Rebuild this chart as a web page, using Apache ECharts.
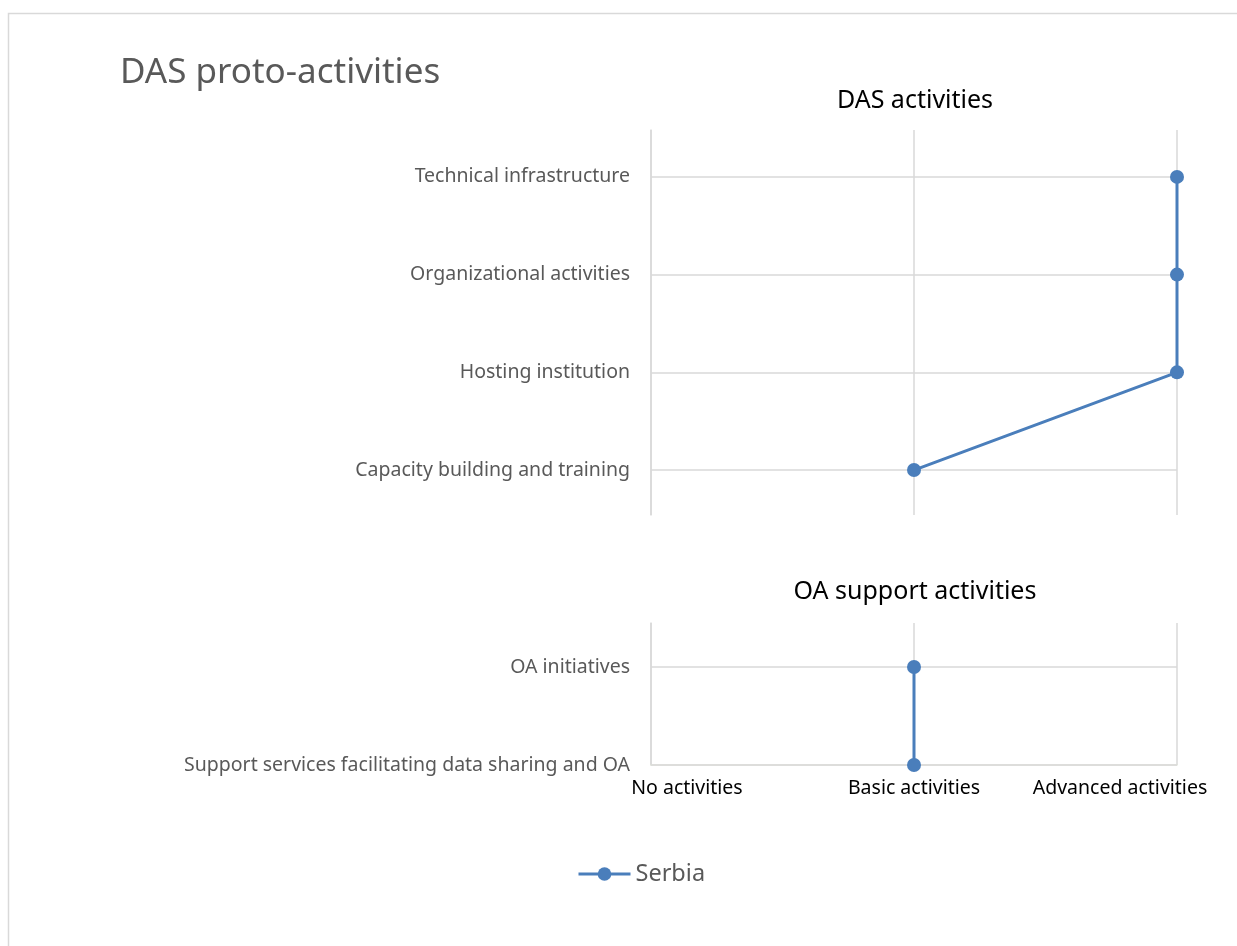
<!DOCTYPE html>
<html>
<head>
<meta charset="utf-8">
<script src="https://cdn.jsdelivr.net/npm/echarts@6/dist/echarts.min.js"></script>
<style>
html,body{margin:0;padding:0;background:#fff;}
#chart{width:1237px;height:946px;}
</style>
</head>
<body>
<div id="chart"></div>
<script>
// ---- data ----
const xLevels = ['No activities', 'Basic activities', 'Advanced activities'];
const dasCategories = ['Capacity building and training', 'Hosting institution', 'Organizational activities', 'Technical infrastructure'];
const dasValues = [1, 2, 2, 2];
const oaCategories = ['Support services facilitating data sharing and OA', 'OA initiatives'];
const oaValues = [1, 1];
const seriesName = 'Serbia';

const FONT = 'Noto Sans';
const BLUE = '#4a7ebb';
const GRID = '#d9d9d9';
const LABEL_SIZE = 19.5;

function catFormatter(cats) {
  return function (v) {
    const r = Math.round(v);
    return Math.abs(v - r) < 1e-6 && cats[r] !== undefined ? cats[r] : '';
  };
}
function hLines(cats) {
  return {
    silent: true, symbol: 'none', z: 1,
    label: { show: false },
    lineStyle: { color: GRID, width: 1.5, type: 'solid' },
    emphasis: { disabled: true },
    data: cats.map((c, i) => ({ yAxis: i }))
  };
}

const chart = echarts.init(document.getElementById('chart'), null, { renderer: 'canvas' });
chart.setOption({
  backgroundColor: '#fff',
  animation: false,
  textStyle: { fontFamily: FONT },
  graphic: [{
    type: 'rect', shape: { x: 8.5, y: 13.5, width: 1300, height: 1000 },
    style: { fill: 'none', stroke: GRID, lineWidth: 1.5 }, silent: true
  }],
  title: [
    { text: 'DAS proto-activities', left: 115, top: 51, textStyle: { fontFamily: FONT, fontSize: 35, fontWeight: 'normal', color: '#595959' } },
    { text: 'DAS activities', left: 910, top: 83, textAlign: 'center', textStyle: { fontFamily: FONT, fontSize: 25, fontWeight: 'normal', color: '#000' } },
    { text: 'OA support activities', left: 910, top: 574, textAlign: 'center', textStyle: { fontFamily: FONT, fontSize: 25, fontWeight: 'normal', color: '#000' } }
  ],
  legend: {
    data: [seriesName], left: 572, top: 857,
    itemWidth: 52, itemHeight: 17, itemGap: 10,
    lineStyle: { width: 3 },
    textStyle: { fontFamily: FONT, fontSize: 23.5, color: '#595959' }
  },
  grid: [
    { left: 651, top: 130, width: 526, height: 385 },
    { left: 651, top: 623, width: 526, height: 142 }
  ],
  xAxis: [
    { gridIndex: 0, type: 'value', min: 0, max: 2, interval: 1,
      axisLine: { show: false }, axisTick: { show: false }, axisLabel: { show: false },
      splitLine: { show: true, lineStyle: { color: GRID, width: 1.5 } } },
    { gridIndex: 1, type: 'value', min: 0, max: 2, interval: 1,
      axisLine: { show: true, lineStyle: { color: '#e2e6d8', width: 1.5 } }, axisTick: { show: false },
      splitLine: { show: true, lineStyle: { color: GRID, width: 1.5 } },
      axisLabel: {
        show: true, margin: 13, fontFamily: FONT, fontSize: LABEL_SIZE, color: '#000',
        formatter: function (v) {
          const r = Math.round(v);
          if (r === 0) return '{first|' + xLevels[r] + '}';
          if (r === xLevels.length - 1) return '{last|' + xLevels[r] + '}';
          return xLevels[r] || '';
        },
        rich: {
          first: { fontFamily: FONT, fontSize: LABEL_SIZE, color: '#000', padding: [0, 0, 0, 72] },
          last: { fontFamily: FONT, fontSize: LABEL_SIZE, color: '#000', padding: [0, 114, 0, 0] }
        }
      } }
  ],
  yAxis: [
    { gridIndex: 0, type: 'value', min: -0.46, max: 3.48, interval: 0.02,
      axisLine: { show: true, lineStyle: { color: GRID, width: 1.5 } }, axisTick: { show: false },
      splitLine: { show: false },
      axisLabel: { margin: 21, fontFamily: FONT, fontSize: LABEL_SIZE, color: '#595959', formatter: catFormatter(dasCategories), showMinLabel: true, showMaxLabel: true } },
    { gridIndex: 1, type: 'value', min: 0, max: 1.45, interval: 1,
      axisLine: { show: true, lineStyle: { color: GRID, width: 1.5 } }, axisTick: { show: false },
      splitLine: { show: false },
      axisLabel: { margin: 21, fontFamily: FONT, fontSize: LABEL_SIZE, color: '#595959', formatter: catFormatter(oaCategories), showMinLabel: true, showMaxLabel: true } }
  ],
  series: [
    { name: seriesName, type: 'line', xAxisIndex: 0, yAxisIndex: 0, z: 3,
      data: dasCategories.map((c, i) => [dasValues[i], i]),
      symbol: 'circle', symbolSize: 14,
      lineStyle: { color: BLUE, width: 3 }, itemStyle: { color: BLUE },
      markLine: hLines(dasCategories) },
    { name: seriesName, type: 'line', xAxisIndex: 1, yAxisIndex: 1, z: 3,
      data: oaCategories.map((c, i) => [oaValues[i], i]),
      symbol: 'circle', symbolSize: 14,
      lineStyle: { color: BLUE, width: 3 }, itemStyle: { color: BLUE },
      markLine: hLines(oaCategories) }
  ]
});
</script>
</body>
</html>
